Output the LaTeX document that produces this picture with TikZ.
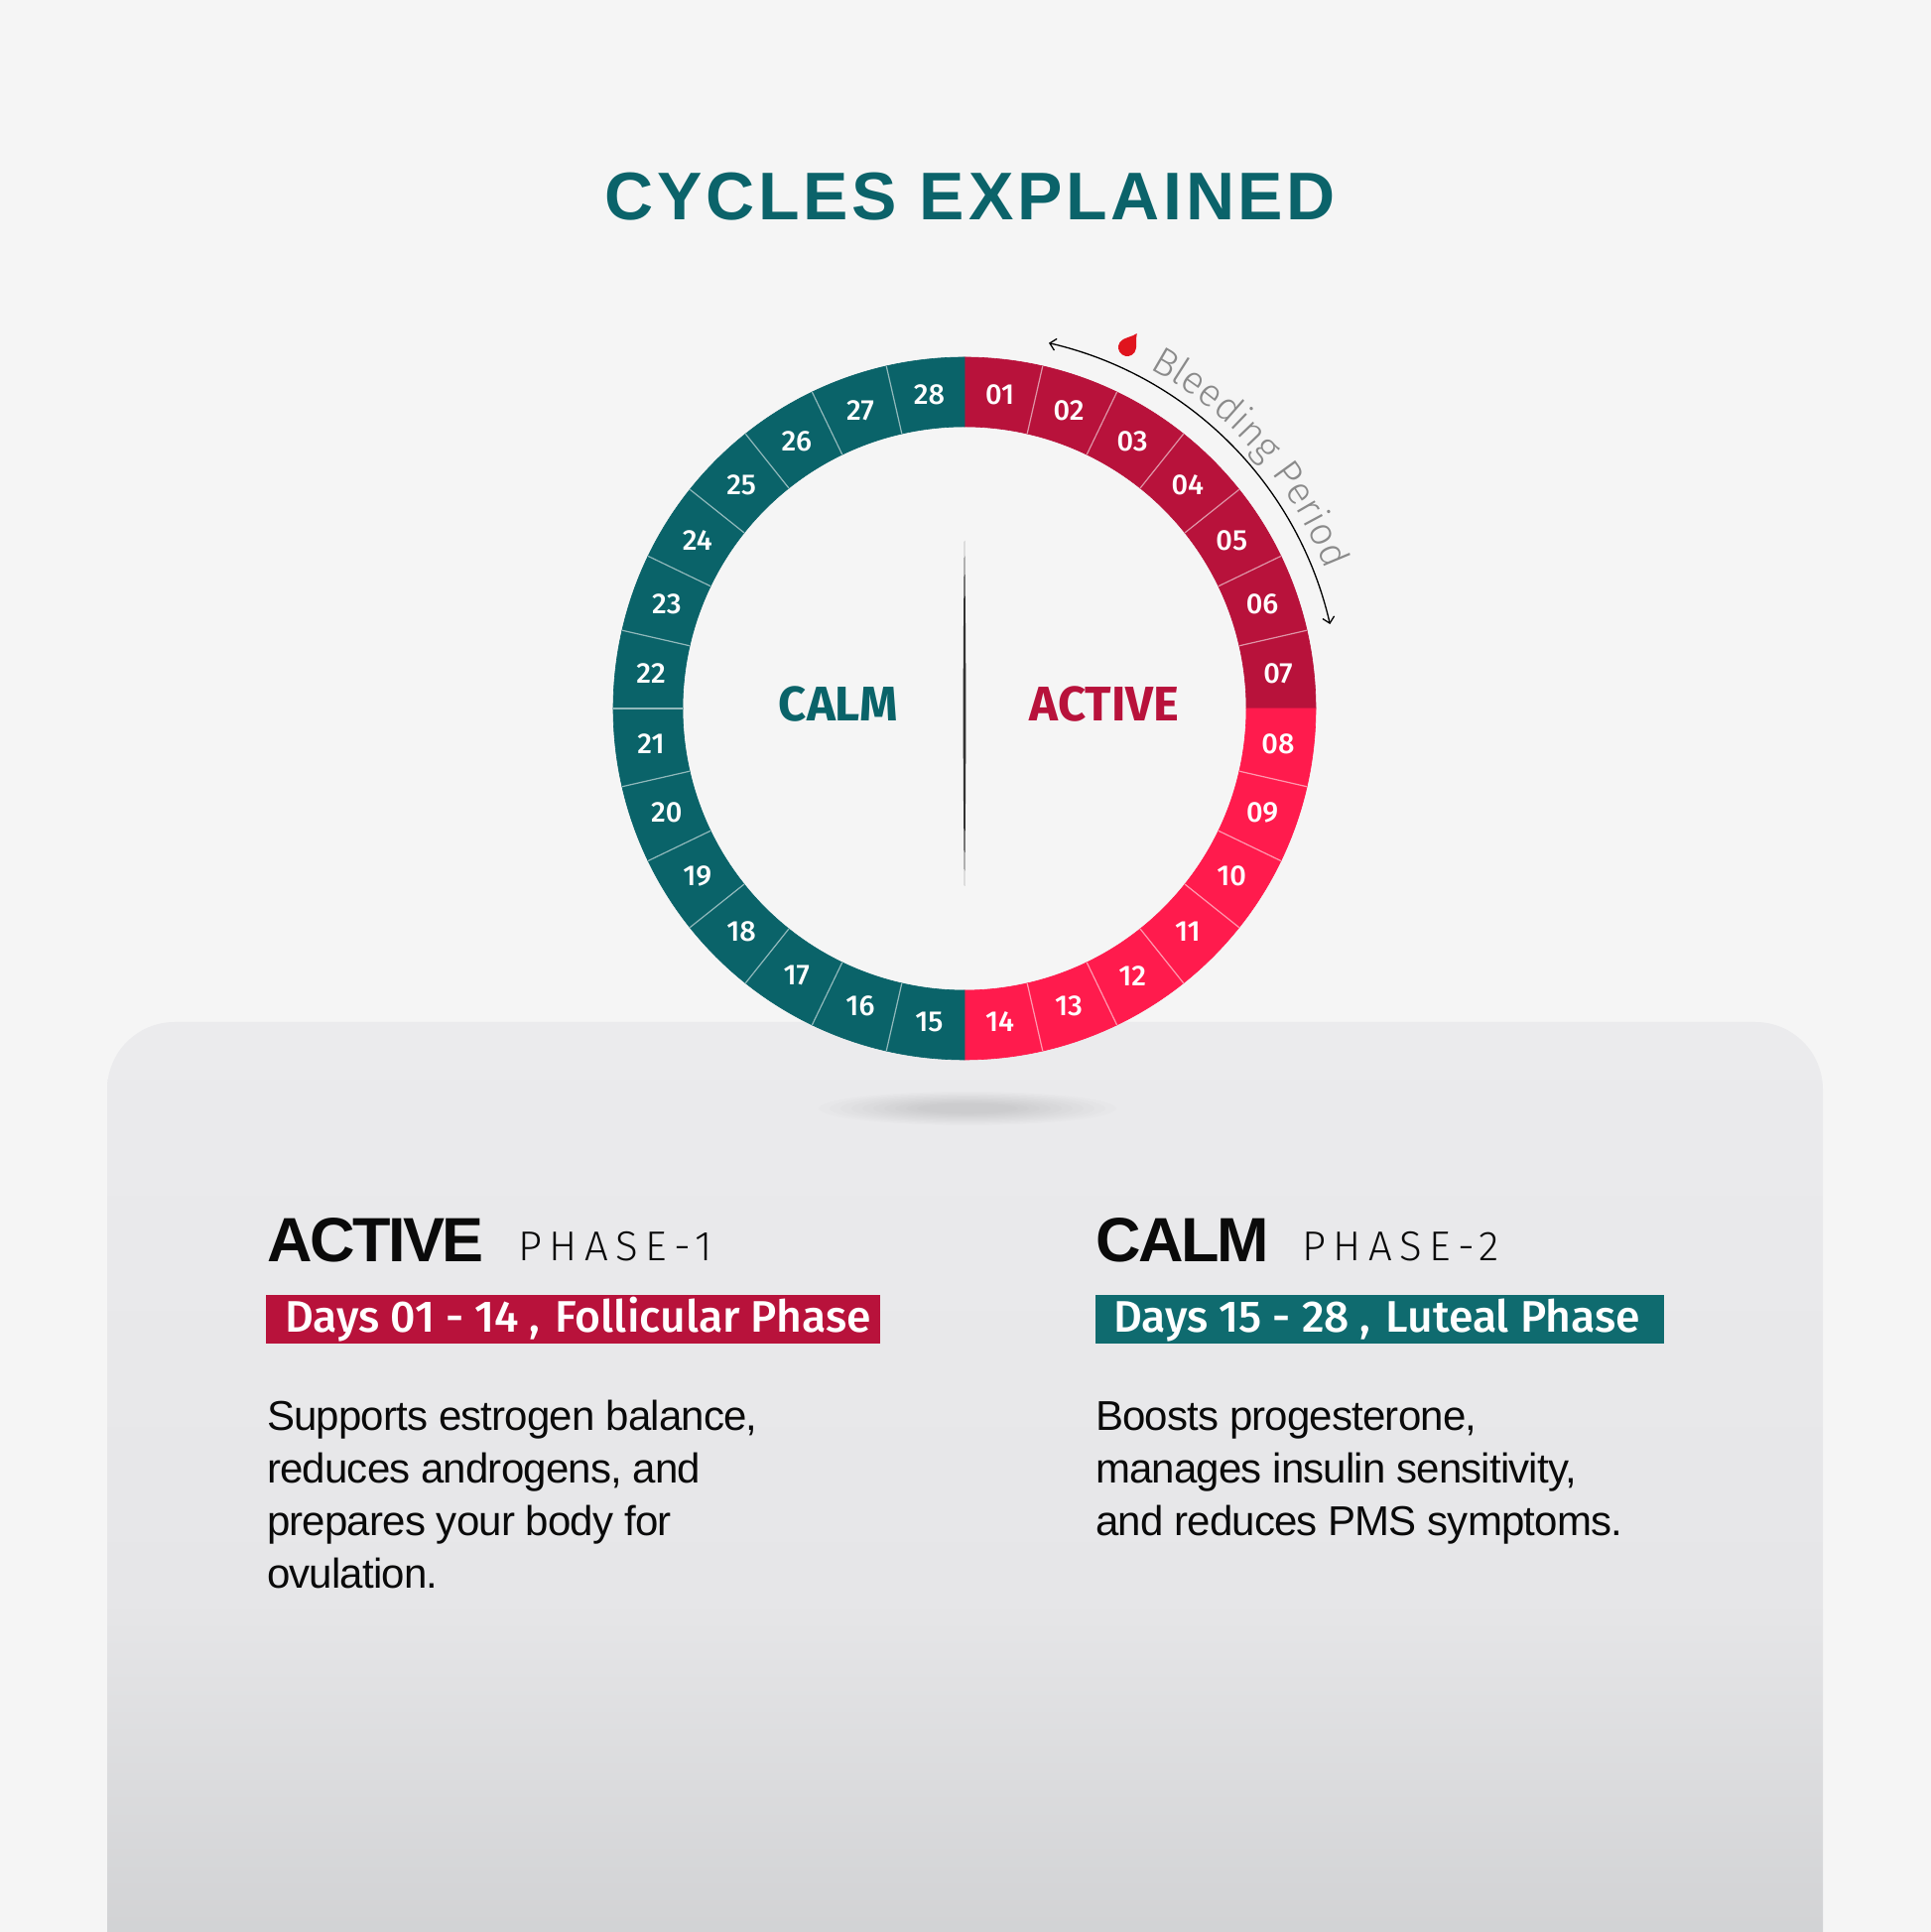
\documentclass[tikz,border=0pt]{standalone}
\usepackage{fontspec}
\setmainfont{Liberation Sans}
\newfontfamily\headfont{Fira Sans}
\newfontfamily\medfont{Fira Sans Medium}
\newfontfamily\bleedfont{Fira Sans Light}
\newfontfamily\phasefont{Fira Sans Light}[LetterSpace=18]
\newfontfamily\titlefont{Liberation Sans}[LetterSpace=5.5]
\newfontfamily\panelfont{Liberation Sans}[LetterSpace=-4]
\newfontfamily\bodyfont{Liberation Sans}[LetterSpace=-2]
\usepackage{tikz}
\usetikzlibrary{positioning,calc,arrows.meta,decorations.text}

\definecolor{bgcol}{HTML}{F5F5F5}
\definecolor{paneltop}{HTML}{EBEBED}
\definecolor{panelmid}{HTML}{E6E6E8}
\definecolor{panelbot}{HTML}{CDCED0}
\definecolor{ringteal}{HTML}{0A6369}
\definecolor{crimson}{HTML}{B8123B}
\definecolor{brightred}{HTML}{FF1B4D}
\definecolor{titleteal}{HTML}{0B636A}
\definecolor{boxteal}{HTML}{0F6B6F}
\definecolor{dropred}{HTML}{E0141E}
\definecolor{bleedgray}{HTML}{8A8A8A}
\definecolor{divider}{HTML}{333333}
\definecolor{ink}{HTML}{0A0A0A}

\pgfdeclareverticalshading{panelshade}{100bp}{color(0bp)=(panelbot); color(25bp)=(panelbot);
  color(45.8bp)=(panelmid); color(75bp)=(paneltop); color(100bp)=(paneltop)}

\tikzset{
  daylabel/.style={text=white, inner sep=0pt, font=\medfont\fontsize{29}{29}\selectfont},
  ringsep/.style={draw=white, draw opacity=0.55, line width=1.2pt},
  bleedarrow/.style={draw=black, line width=1.3pt, {Straight Barb[length=6pt,width=12pt]}-{Straight Barb[length=6pt,width=12pt]}},
  centrelabel/.style={anchor=base, inner sep=0pt, font=\headfont\bfseries\fontsize{49}{49}\selectfont},
  headlabel/.style={anchor=base west, inner sep=0pt, text=ink, font=\panelfont\bfseries\fontsize{63}{63}\selectfont},
  phaselabel/.style={anchor=base west, inner sep=0pt, text=ink, font=\phasefont\fontsize{42}{42}\selectfont},
  daybar/.style={anchor=south west, inner sep=0pt, minimum height=49pt},
  daytext/.style={anchor=base west, inner sep=0pt, text=white, font=\medfont\fontsize{44.5}{44.5}\selectfont},
  bodyline/.style={anchor=base west, inner sep=0pt, text=ink, font=\bodyfont\fontsize{42}{42}\selectfont}
}

\begin{document}
\begin{tikzpicture}[x=1pt,y=1pt]
    % Background
    \fill[bgcol] (0,0) rectangle (1946,1947);
    \useasboundingbox (0,0) rectangle (1946,1947);

    % Lower panel
    \shade[shading=panelshade, rounded corners=68pt] (108,-80) rectangle (1837,917);

    % Shadow under the ring
    \foreach \k in {0,...,9}
        \fill[black, opacity=0.012] (975,830) ellipse ({150-11*\k} and {17-1.3*\k});

    % Ring of days
    \begin{scope}[shift={(972,1233)}]
        \foreach \i in {1,...,28}{
            \pgfmathsetmacro\sa{90-(\i-1)*360/28}
            \pgfmathsetmacro\ea{90-\i*360/28}
            \ifnum\i<8 \def\segcol{crimson}\else\ifnum\i<15 \def\segcol{brightred}\else\def\segcol{ringteal}\fi\fi
            \fill[\segcol, draw=\segcol, line width=0.6pt] (\sa:354) arc[start angle=\sa, end angle=\ea, radius=354]
                -- (\ea:284) arc[start angle=\ea, end angle=\sa, radius=284] -- cycle;
        }
        \foreach \k in {1,...,6,8,9,...,13,15,16,...,27}
            \draw[ringsep] ({90-\k*360/28}:284) -- ({90-\k*360/28}:354);
        \foreach \i in {1,...,28}
            \node[daylabel] (day\i) at ({90-(\i-0.5)*360/28}:318) {\ifnum\i<10 0\fi\i};
    \end{scope}

    % Centre divider
    \fill[divider] (972,1402) .. controls (973.8,1290) and (973.8,1166) .. (972,1054)
        .. controls (970.2,1166) and (970.2,1290) .. (972,1402) -- cycle;

    % Centre labels
    \node[centrelabel, text=ringteal] (calm) at (845,1220) {CALM};
    \node[centrelabel, text=crimson] (active) at (1113,1220) {ACTIVE};

    % Bleeding period
    \coordinate (bleedstart) at ($(972,1233)+(77:378)$);
    \draw[bleedarrow] (bleedstart) arc[start angle=77, end angle=13, radius=378];
    \path[decorate, decoration={text along path, text color=bleedgray, text align=left,
        text={|\bleedfont\fontsize{39}{39}\selectfont|Bleeding Period}}]
        ($(972,1233)+(61.5:390)$) arc[start angle=61.5, end angle=5, radius=390];
    \fill[dropred, shift={(1136,1597)}, rotate=-35] (0,17) .. controls (2,11) and (9,6) .. (9,0)
        arc[start angle=0, end angle=-180, radius=9] .. controls (-9,6) and (-2,11) .. (0,17) -- cycle;

    % Title
    \node[anchor=base, inner sep=0pt, text=titleteal, font=\titlefont\bfseries\fontsize{68}{68}\selectfont] (title) at (978,1725) {CYCLES EXPLAINED};

    % Phase 1
    \node[headlabel] (activehead) at (269,675) {ACTIVE};
    \node[phaselabel] (phaseone) at (522,676) {PHASE-1};
    \node[daybar, fill=crimson, minimum width=619pt] (barone) at (268,593) {};
    \node[daytext] (daysone) at (287,604) {Days 01 - 14\hspace{11pt},\hspace{15pt}Follicular Phase};
    \foreach \txt [count=\n] in {{Supports estrogen balance,}, {reduces androgens, and}, {prepares your body for}, {ovulation.}}
        \node[bodyline] (bodyone\n) at (269,{505-(\n-1)*53}) {\txt};

    % Phase 2
    \node[headlabel] (calmhead) at (1104,675) {CALM};
    \node[phaselabel] (phasetwo) at (1312,676) {PHASE-2};
    \node[daybar, fill=boxteal, minimum width=573pt] (bartwo) at (1104,593) {};
    \node[daytext] (daystwo) at (1122,604) {Days 15 - 28\hspace{11pt},\hspace{15pt}Luteal Phase};
    \foreach \txt [count=\n] in {{Boosts progesterone,}, {manages insulin sensitivity,}, {and reduces PMS symptoms.}}
        \node[bodyline] (bodytwo\n) at (1104,{505-(\n-1)*53}) {\txt};
\end{tikzpicture}
\end{document}
